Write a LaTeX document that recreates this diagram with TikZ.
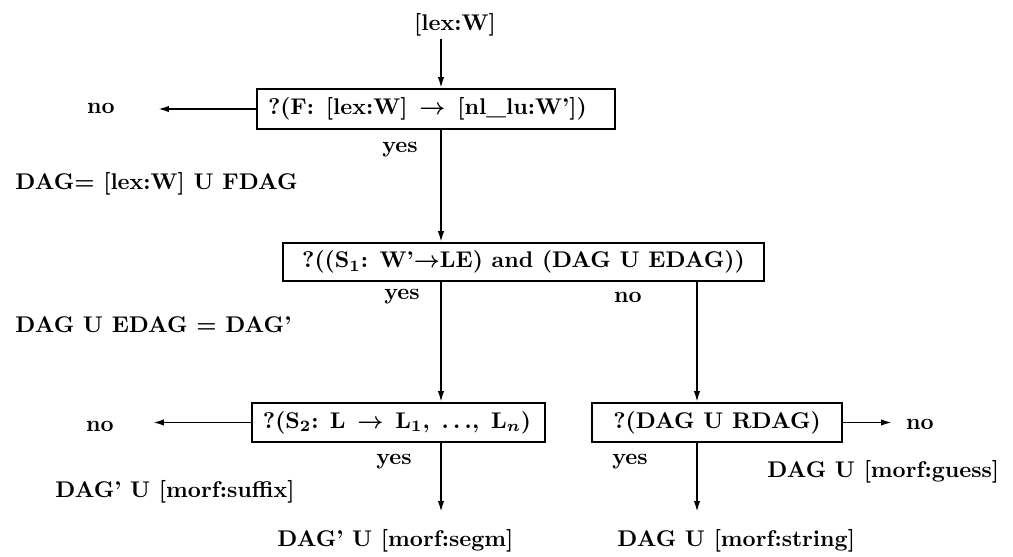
\documentclass[tikz,border=0pt]{standalone}
\usetikzlibrary{arrows.meta}
\begin{document}
\begin{tikzpicture}[x=0.4405pt,y=-0.4405pt,
  every node/.style={font=\bfseries\boldmath, inner sep=0pt},
  test/.style={draw, line width=0.8pt, minimum height=17.2pt},
  lefttest/.style={test, align=left, inner xsep=4.85pt,
    execute at begin node={\spaceskip=5.2pt plus 1pt\relax}},
  flow/.style={line width=0.8pt, -{Latex[length=4.8pt,width=2.8pt]}},
  lbl/.style={anchor=west}]
\useasboundingbox (0,0) rectangle (1013,556);

% input feature
\node (lex) at (455,25) {[lex:W]};

% tests
\node[lefttest, text width=148pt, minimum height=17.6pt] (q1) at (436,109)
  {?(F: [lex:W] $\rightarrow$ [nl\_lu:W'])};
\node[test, minimum width=211.9pt, minimum height=16.7pt] (q2) at (523.5,262)
  {?((S$_1$: W'$\rightarrow$LE) and (DAG U EDAG))};
\node[lefttest, text width=119.4pt] (q3) at (398.5,422.5)
  {?(S$_2$: L $\rightarrow$ L$_1$, $\ldots$, L$_n$)};
\node[test, minimum width=110.1pt] (q4) at (717,422.5)
  {?(DAG U RDAG)};

% branch labels
\node (no1) at (101,108) {no};
\node (yes1) at (400,150) {yes};
\node (yes2) at (402,297) {yes};
\node (no2) at (628,297) {no};
\node (no3) at (100,426) {no};
\node (yes3) at (394,462) {yes};
\node (yes4) at (630,462) {yes};
\node (no4) at (920,424) {no};

% results
\node[lbl] (dag1) at (15,184) {DAG= [lex:W] U FDAG};
\node[lbl] (dag2) at (15,325) {DAG U EDAG = DAG'};
\node[lbl] (suffix) at (55,492) {DAG' U [morf:suffix]};
\node[lbl] (guess) at (767,472) {DAG U [morf:guess]};
\node[lbl] (segm) at (277,541) {DAG' U [morf:segm]};
\node[lbl] (string) at (617,541) {DAG U [morf:string]};

% connector columns and free ends
\coordinate (cx1) at (441,0);
\coordinate (cx2) at (697,0);
\coordinate (e1) at (158,109);
\coordinate (e3) at (153,422.5);
\coordinate (e4) at (892,422.5);
\coordinate (e5) at (441,512);
\coordinate (e6) at (697,512);

% connectors
\draw[flow] ([yshift=-1pt]lex.south -| cx1) -- (q1.north -| cx1);
\draw[flow] (q1.south -| cx1) -- (q2.north -| cx1);
\draw[flow] (q2.south -| cx1) -- (q3.north -| cx1);
\draw[flow] (q2.south -| cx2) -- (q4.north -| cx2);
\draw[flow] (q1.west) -- (e1);
\draw[flow] (q3.west) -- (e3);
\draw[flow] (q4.east) -- (e4);
\draw[flow] (q3.south -| cx1) -- (e5);
\draw[flow] (q4.south -| cx2) -- (e6);
\end{tikzpicture}
\end{document}
